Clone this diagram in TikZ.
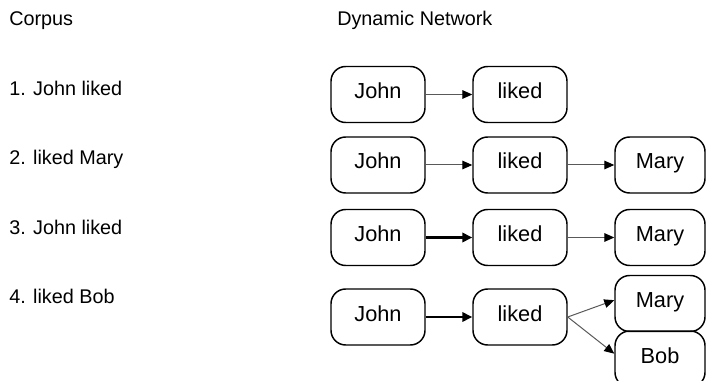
\documentclass[tikz,border=0pt]{standalone}
\usepackage{fontspec}
\setmainfont{Liberation Sans}
\usetikzlibrary{arrows.meta}
\tikzset{
  wbox/.style={draw=black, line width=1.1pt, rounded corners=11pt, minimum width=70.5pt, minimum height=42pt, inner sep=0pt, font=\fontsize{16.3pt}{19pt}\selectfont, text height=0.72em, text depth=0.12em},
  mbox/.style={wbox, minimum width=67.5pt},
  lbl/.style={anchor=base west, inner sep=0pt},
  thin/.style={draw=black!65, line width=0.75pt, -{Triangle[length=7.5pt,width=6.5pt,color=black]}},
  thick/.style={draw=black, line width=2.2pt, -{Triangle[length=7.5pt,width=7pt]}},
}
\begin{document}
\begin{tikzpicture}[x=0.75pt, y=-0.75pt, font=\fontsize{14.85pt}{17pt}\selectfont]
\useasboundingbox (0,0) rectangle (707,381);
\clip (0,0) rectangle (707,381);
% headings and corpus
\node[lbl] (hc) at (9,26) {Corpus};
\node[lbl] (hd) at (337,26) {Dynamic Network};
\node[lbl] (c1) at (9,96) {1. John liked};
\node[lbl] (c2) at (9,165) {2. liked Mary};
\node[lbl] (c3) at (9,234) {3. John liked};
\node[lbl] (c4) at (9,303) {4. liked Bob};
% row 1
\node[wbox] (j1) at (378,94.5) {John};
\node[wbox] (l1) at (520,94.5) {liked};
\draw[thin] (j1) -- (l1);
% row 2
\node[wbox] (j2) at (378,165) {John};
\node[wbox] (l2) at (520,165) {liked};
\node[mbox] (m2) at (660,165) {Mary};
\draw[thin] (j2) -- (l2);
\draw[thin] (l2) -- (m2);
% row 3
\node[wbox] (j3) at (378,237.5) {John};
\node[wbox] (l3) at (520,237.5) {liked};
\node[mbox] (m3) at (660,237.5) {Mary};
\draw[thick] (j3) -- (l3);
\draw[thin] (l3) -- (m3);
% row 4
\node[wbox] (j4) at (378,317) {John};
\node[wbox] (l4) at (520,317) {liked};
\node[mbox] (m4) at (660,303.5) {Mary};
\node[mbox] (b4) at (660,359) {Bob};
\draw[thick] (j4) -- (l4);
\draw[thin] (l4.east) -- ([yshift=2.5pt]m4.west);
\draw[thin] (l4.east) -- ([yshift=4pt]b4.west);
\end{tikzpicture}
\end{document}
